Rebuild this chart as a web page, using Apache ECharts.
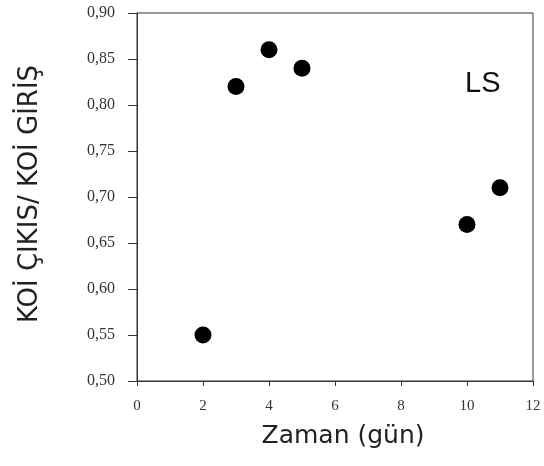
<!DOCTYPE html>
<html>
<head>
<meta charset="utf-8">
<script src="https://cdn.jsdelivr.net/npm/echarts@6/dist/echarts.min.js"></script>
<style>html,body{margin:0;padding:0;background:#fff;}#c{width:544px;height:466px;}</style>
</head>
<body>
<div id="c"></div>
<script>
const days = [2, 3, 4, 5, 10, 11];
const ratio = [0.55, 0.82, 0.86, 0.84, 0.67, 0.71];
const xTitle = 'Zaman (gün)';
const yTitle = 'KOİ ÇIKIS/ KOİ GİRİŞ';
const label = 'LS';

const chart = echarts.init(document.getElementById('c'), null, {renderer: 'canvas'});
chart.setOption({
  animation: false,
  backgroundColor: '#fff',
  title: {
    text: label, left: 460, top: 64,
    textStyle: {fontFamily: 'Liberation Sans', fontSize: 29, fontWeight: 'normal', color: '#111'}
  },
  grid: {left: 137, right: 11, top: 13, bottom: 85, show: true, borderColor: '#333', borderWidth: 1},
  xAxis: {
    type: 'value', min: 0, max: 12, interval: 2,
    name: xTitle, nameLocation: 'middle', nameGap: 43,
    nameTextStyle: {fontFamily: 'DejaVu Sans', fontSize: 25, color: '#222', padding: [0, 0, 0, 16]},
    axisLine: {show: true, lineStyle: {color: '#333'}},
    axisTick: {show: true, inside: false, length: 5, lineStyle: {color: '#333'}},
    axisLabel: {margin: 18, fontFamily: 'Liberation Serif', fontSize: 15, color: '#333'},
    splitLine: {show: false}
  },
  yAxis: {
    type: 'value', min: 0.5, max: 0.9, interval: 0.05,
    name: yTitle, nameLocation: 'middle', nameGap: 94, nameRotate: 90,
    nameTextStyle: {fontFamily: 'DejaVu Sans', fontSize: 26, color: '#222', padding: [0, 0, 0, 6]},
    axisLine: {show: true, lineStyle: {color: '#333'}},
    axisTick: {show: true, inside: false, length: 9, lineStyle: {color: '#333'}},
    axisLabel: {margin: 22, fontFamily: 'Liberation Serif', fontSize: 16, color: '#333',
      formatter: v => v.toFixed(2).replace('.', ',')},
    splitLine: {show: false}
  },
  series: [{
    type: 'scatter',
    data: days.map((d, i) => [d, ratio[i]]),
    symbol: 'circle', symbolSize: 17,
    itemStyle: {color: '#000', opacity: 1}
  }]
});
</script>
</body>
</html>
